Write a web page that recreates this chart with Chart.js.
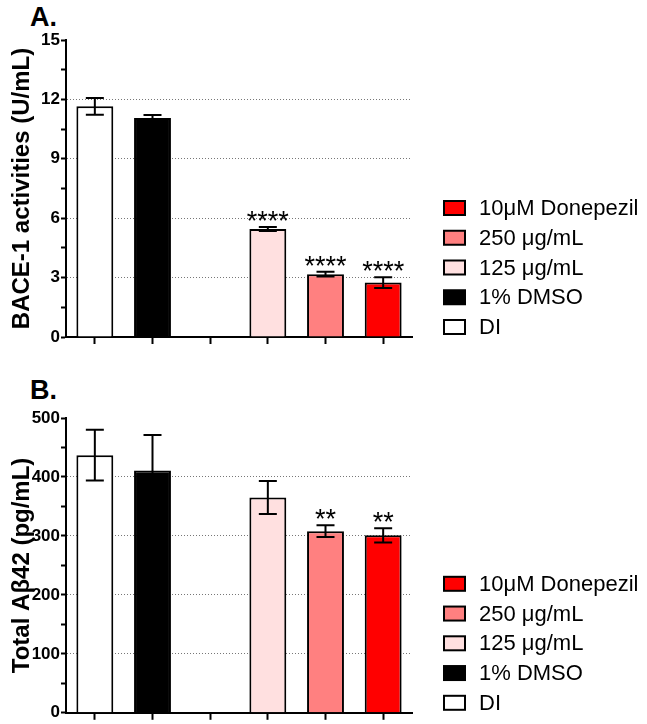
<!DOCTYPE html>
<html>
<head>
<meta charset="utf-8">
<script src="https://cdn.jsdelivr.net/npm/chart.js@4.4.1/dist/chart.umd.min.js"></script>
<style>
  body { margin: 0; background: #fff; width: 647px; height: 724px; position: relative; overflow: hidden;
         font-family: "Liberation Sans", Arial, sans-serif; }
  .panel { position: absolute; left: 0; width: 647px; height: 362px; }
  .tag { position: absolute; font-weight: bold; font-size: 27px; color: #000; }
</style>
</head>
<body>
<div class="tag" style="left:30px; top:2px">A.</div>
<div class="panel" style="top:0"><canvas id="chartA"></canvas></div>
<div class="tag" style="left:30px; top:375px">B.</div>
<div class="panel" style="top:362px"><canvas id="chartB"></canvas></div>

<script>
// groups, in bar order (third slot is the empty gap)
const categories = ['DI', '1% DMSO', '', '125 μg/mL', '250 μg/mL', '10μM Donepezil'];
const barColors = ['#ffffff', '#000000', null, '#ffe0e0', '#ff8080', '#ff0000'];

// A. BACE-1 activities (U/mL)
const bace1Values = [11.65, 11.06, null, 5.45, 3.17, 2.75];
const bace1Errors = [0.42, 0.15, null, 0.10, 0.12, 0.27];
const bace1Stars = ['', '', '', '****', '****', '****'];
const bace1Ticks = [0, 3, 6, 9, 12, 15];

// B. Total Abeta42 (pg/mL)
const abetaValues = [437, 411, null, 365, 308, 301];
const abetaErrors = [43, 60, null, 28, 10, 12];
const abetaStars = ['', '', '', '', '**', '**'];
const abetaTicks = [0, 100, 200, 300, 400, 500];

const FONT = '"Liberation Sans", Arial, sans-serif';

const errorBarPlugin = {
    id: 'errorBars',
    afterDatasetsDraw(chart) {
        const ctx = chart.ctx;
        const y = chart.scales.y;
        const ds = chart.data.datasets[0];
        chart.getDatasetMeta(0).data.forEach((bar, i) => {
            const v = ds.data[i];
            if (v == null) return;
            const e = ds.errors[i];
            const x = bar.x;
            const yTop = y.getPixelForValue(v + e);
            const yBot = y.getPixelForValue(v - e);
            ctx.save();
            ctx.strokeStyle = '#000';
            ctx.lineWidth = 2;
            ctx.beginPath();
            ctx.moveTo(x, yTop); ctx.lineTo(x, yBot);
            ctx.moveTo(x - 9, yTop); ctx.lineTo(x + 9, yTop);
            ctx.moveTo(x - 9, yBot); ctx.lineTo(x + 9, yBot);
            ctx.stroke();
            if (ds.stars[i]) {
                ctx.fillStyle = '#000';
                ctx.font = '27px ' + FONT;
                ctx.textAlign = 'center';
                ctx.textBaseline = 'alphabetic';
                ctx.fillText(ds.stars[i], x, yTop + 3);
            }
            ctx.restore();
        });
    }
};

// legend on the right, bottom aligned, last group on top
const sideLegendPlugin = {
    id: 'sideLegend',
    afterDraw(chart) {
        const { ctx, chartArea } = chart;
        const ds = chart.data.datasets[0];
        const items = chart.data.labels
            .map((t, i) => ({ text: t, color: ds.backgroundColor[i] }))
            .filter(it => it.text)
            .reverse();
        const x0 = chartArea.right + 31;
        const rowH = 29.75;
        ctx.save();
        items.forEach((it, k) => {
            const cy = chartArea.bottom - 10 - (items.length - 1 - k) * rowH;
            ctx.fillStyle = it.color;
            ctx.fillRect(x0 + 1, cy - 7, 21, 14);
            ctx.strokeStyle = '#000';
            ctx.lineWidth = 2;
            ctx.strokeRect(x0 + 1, cy - 7, 21, 14);
            ctx.fillStyle = '#000';
            ctx.font = '22px ' + FONT;
            ctx.textAlign = 'left';
            ctx.textBaseline = 'middle';
            ctx.fillText(it.text, x0 + 36, cy + 1);
        });
        ctx.restore();
    }
};

function makeChart(id, values, errors, stars, ticks, title, padTop, padBottom) {
    const max = ticks[ticks.length - 1];
    const isMajor = v => ticks.some(t => Math.abs(t - v) < 1e-6);

    return new Chart(document.getElementById(id), {
        type: 'bar',
        data: {
            labels: categories,
            datasets: [{
                data: values,
                errors: errors,
                stars: stars,
                backgroundColor: barColors,
                borderColor: '#000',
                borderWidth: 2,
                categoryPercentage: 1,
                barPercentage: 0.64
            }]
        },
        options: {
            responsive: true,
            maintainAspectRatio: false,
            animation: false,
            layout: { padding: { top: padTop, right: 235, bottom: padBottom, left: 0 } },
            scales: {
                x: {
                    afterFit: s => { s.height = 6; },
                    ticks: { display: false },
                    grid: {
                        offset: false,
                        drawOnChartArea: false,
                        drawTicks: true,
                        tickLength: 7,
                        tickColor: '#000',
                        tickWidth: 2
                    },
                    border: { color: '#000', width: 2 }
                },
                y: {
                    min: 0,
                    max: max,
                    afterFit: s => { s.width = 66; },
                    ticks: {
                        stepSize: ticks[1] / 2,
                        autoSkip: false,
                        padding: 1,
                        color: '#000',
                        font: { family: FONT, size: 17, weight: 'bold' },
                        callback: v => isMajor(v) ? v : ''
                    },
                    grid: {
                        color: c => (c.tick && isMajor(c.tick.value) && c.tick.value > 0 && c.tick.value < max)
                            ? '#777777' : 'rgba(0,0,0,0)',
                        lineWidth: 1,
                        tickBorderDash: [],
                        tickColor: '#000',
                        tickWidth: 2,
                        tickLength: 5
                    },
                    // in v4 the grid lines take their dash from border.dash
                    border: { color: '#000', width: 2, dash: [1, 2] },
                    title: {
                        display: true,
                        text: title,
                        color: '#000',
                        font: { family: FONT, size: 24, weight: 'bold' },
                        padding: { top: 8, bottom: 0 }
                    }
                }
            },
            plugins: {
                legend: { display: false },
                tooltip: { enabled: false }
            }
        },
        plugins: [errorBarPlugin, sideLegendPlugin]
    });
}

makeChart('chartA', bace1Values, bace1Errors, bace1Stars, bace1Ticks, 'BACE-1 activities (U/mL)', 40, 19);
makeChart('chartB', abetaValues, abetaErrors, abetaStars, abetaTicks, 'Total Aβ42 (pg/mL)', 56, 2);
</script>
</body>
</html>
